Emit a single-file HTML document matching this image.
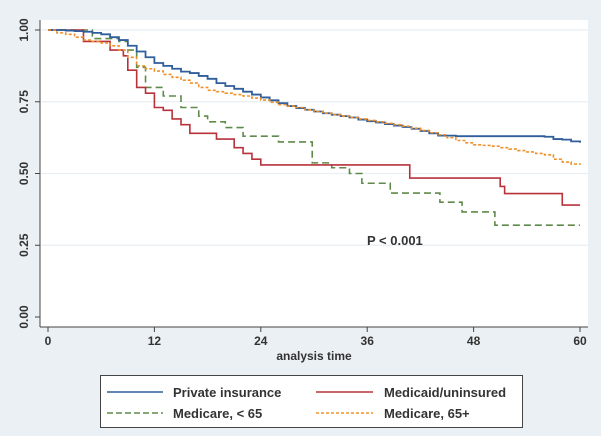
<!DOCTYPE html>
<html><head><meta charset="utf-8"><style>
html,body{margin:0;padding:0;background:#eaf0f4;}
svg{display:block;font-family:"Liberation Sans",Arial,sans-serif;}
</style></head><body>
<svg id="chart" width="601" height="436" viewBox="0 0 601 436">
<rect x="0" y="0" width="601" height="436" fill="#eaf0f4"/>
<rect x="40" y="20" width="548" height="307" fill="#ffffff"/>
<g id="grid"></g>
<g id="series"></g>
<g id="axes"></g>
<text x="367" y="245" font-size="13" font-weight="bold" fill="#333">P &lt; 0.001</text>
<text x="314" y="360" font-size="12" font-weight="bold" fill="#333" text-anchor="middle">analysis time</text>
<g>
<rect x="100.5" y="375.5" width="422" height="52" fill="#fff" stroke="#444" stroke-width="1"/>
<line x1="107" y1="392" x2="163" y2="392" stroke="#2f5e9a" stroke-width="1.5"/>
<text x="173" y="397" font-size="13" font-weight="bold" fill="#333">Private insurance</text>
<line x1="316" y1="392" x2="373" y2="392" stroke="#b8323a" stroke-width="1.5"/>
<text x="384" y="397" font-size="13" font-weight="bold" fill="#333">Medicaid/uninsured</text>
<line x1="107" y1="413" x2="163" y2="413" stroke="#5f8a4a" stroke-width="1.5" stroke-dasharray="6,3"/>
<text x="173" y="418" font-size="13" font-weight="bold" fill="#333">Medicare, &lt; 65</text>
<line x1="316" y1="413" x2="373" y2="413" stroke="#f0902a" stroke-width="1.5" stroke-dasharray="3,2"/>
<text x="384" y="418" font-size="13" font-weight="bold" fill="#333">Medicare, 65+</text>
</g>
</svg>
<script>
const xTicks = [0, 12, 24, 36, 48, 60];
const yTicks = [0, 0.25, 0.5, 0.75, 1.0];
const yTickLabels = ["0.00", "0.25", "0.50", "0.75", "1.00"];
const privT = [0,1,2,3,4,5,6,7,8,9,10,11,12,13,14,15,16,17,18,19,20,21,22,23,24,25,26,27,28,29,30,31,32,33,34,35,36,37,38,39,40,41,42,43,44,45,46,47,48,49,50,51,52,53,54,55,56,57,58,59,60];
const privS = [1,1,0.998,0.996,0.994,0.99,0.985,0.975,0.965,0.945,0.925,0.905,0.885,0.875,0.865,0.855,0.85,0.84,0.83,0.815,0.805,0.795,0.785,0.775,0.765,0.755,0.745,0.735,0.728,0.722,0.716,0.71,0.705,0.70,0.695,0.688,0.682,0.678,0.672,0.667,0.662,0.656,0.648,0.64,0.632,0.632,0.63,0.63,0.63,0.63,0.63,0.63,0.63,0.63,0.63,0.63,0.628,0.62,0.618,0.612,0.607];
const m65T = [0,1,2,3,4,5,6,7,8,9,10,11,12,13,14,15,16,17,18,19,20,21,22,23,24,25,26,27,28,29,30,31,32,33,34,35,36,37,38,39,40,41,42,43,44,45,46,47,48,49,50,51,52,53,54,55,56,57,58,59,60];
const m65S = [1,0.99,0.985,0.975,0.965,0.96,0.955,0.945,0.93,0.905,0.875,0.865,0.857,0.845,0.835,0.825,0.815,0.80,0.79,0.785,0.78,0.775,0.77,0.763,0.756,0.748,0.74,0.735,0.73,0.722,0.716,0.71,0.705,0.70,0.695,0.69,0.685,0.68,0.675,0.67,0.665,0.658,0.65,0.642,0.635,0.625,0.615,0.607,0.60,0.598,0.595,0.59,0.585,0.58,0.575,0.57,0.565,0.55,0.54,0.533,0.53];
const medT = [0,4,7,8.5,9,10,11,12,13,14,15,16,19,21,22,23,24,40.8,51,51.5,58,60];
const medS = [1,0.96,0.93,0.91,0.86,0.80,0.78,0.73,0.72,0.69,0.67,0.64,0.62,0.59,0.57,0.55,0.53,0.484,0.455,0.43,0.39,0.39];
const mu65T = [0,5,8,9,10,11,13,15,17,18,20,22,26,29.8,32,34,35.4,38.6,44.2,46.7,50.4,60];
const mu65S = [1,0.97,0.96,0.93,0.87,0.80,0.77,0.73,0.70,0.68,0.66,0.63,0.61,0.537,0.52,0.50,0.466,0.432,0.40,0.366,0.32,0.32];

const NS="http://www.w3.org/2000/svg";
const X0=48, X1=580, Y0=317, Y1=30;
const xs=t=>X0+(t/60)*(X1-X0);
const ys=v=>Y0-v*(Y0-Y1);
function mk(tag,attrs,parent){const e=document.createElementNS(NS,tag);for(const k in attrs)e.setAttribute(k,attrs[k]);parent.appendChild(e);return e;}
const grid=document.getElementById('grid'), axes=document.getElementById('axes'), ser=document.getElementById('series');
yTicks.forEach((v,i)=>{
  if(v>0){const g=mk('line',{x1:41,x2:588,y1:ys(v),y2:ys(v),stroke:'#e8eef2','stroke-width':1.2},grid);
  
  }
  const t=mk('line',{x1:35,x2:40,y1:ys(v),y2:ys(v),stroke:'#444'},axes);
  
  
  const l=mk('text',{x:0,y:0,'font-size':12,'font-weight':'bold',fill:'#333','text-anchor':'middle',transform:`translate(28,${ys(v)}) rotate(-90)`},axes);
  l.textContent=yTickLabels[i];
  
  
});
const ya=mk('line',{x1:40,x2:40,y1:20,y2:327,stroke:'#444'},axes);


const xa=mk('line',{x1:40,x2:588,y1:327,y2:327,stroke:'#444'},axes);


xTicks.forEach(v=>{
  const t=mk('line',{x1:xs(v),x2:xs(v),y1:327,y2:332,stroke:'#444'},axes);
  
  
  const l=mk('text',{x:xs(v),y:345,'font-size':12,'font-weight':'bold',fill:'#333','text-anchor':'middle'},axes);
  l.textContent=String(v);
  
  
});
function step(T,S){let d=`M${xs(T[0])},${ys(S[0])}`;for(let i=1;i<T.length;i++){d+=` H${xs(T[i])} V${ys(S[i])}`;}return d;}
const sm=mk('path',{d:step(mu65T,mu65S),fill:'none',stroke:'#5f8a4a','stroke-width':1.6,'stroke-dasharray':'7,4'},ser);


const sd=mk('path',{d:step(medT,medS),fill:'none',stroke:'#b8323a','stroke-width':1.6},ser);


const sp=mk('path',{d:step(privT,privS),fill:'none',stroke:'#2f5e9a','stroke-width':1.8},ser);


const so=mk('path',{d:step(m65T,m65S),fill:'none',stroke:'#f0902a','stroke-width':1.6,'stroke-dasharray':'3,2'},ser);


</script>
</body></html>
